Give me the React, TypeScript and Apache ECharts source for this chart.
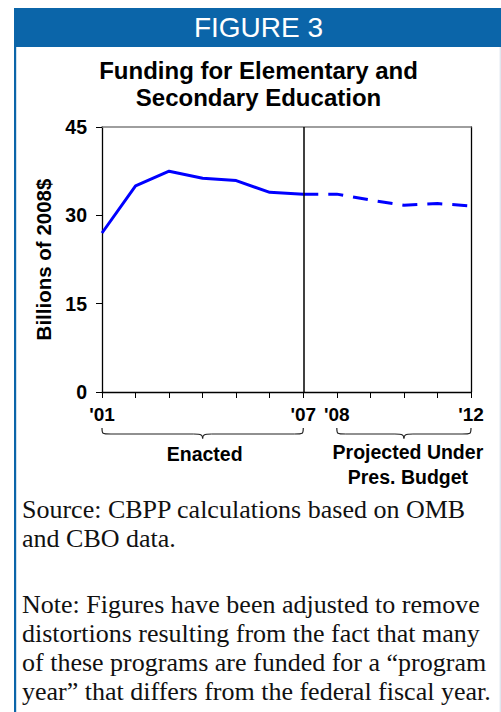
import React, { useEffect, useRef } from "react";
import * as echarts from "echarts";

// ---- data ----
const enactedYears = [2001, 2002, 2003, 2004, 2005, 2006, 2007];
const enactedValues = [27.0, 35.0, 37.5, 36.3, 35.9, 33.9, 33.6];
const projectedYears = [2007, 2008, 2009, 2010, 2011, 2012];
const projectedValues = [33.6, 33.6, 32.6, 31.7, 32.0, 31.6];
const yTickValues = [0, 15, 30, 45];
const xLabelYears = [2001, 2007, 2008, 2012];
const xLabelTexts = ["'01", "'07", "'08", "'12"];
const dividerYear = 2007;
const braceStarts = [2001, 2008];
const braceEnds = [2007, 2012];
const braceLabels = [["Enacted"], ["Projected Under", "Pres. Budget"]];
const headerText = "FIGURE 3";
const titleLines = ["Funding for Elementary and", "Secondary Education"];
const yAxisTitle = "Billions of 2008$";
const sourceLines = ["Source: CBPP calculations based on OMB", "and CBO data."];
const noteLines = [
  "Note: Figures have been adjusted to remove",
  "distortions resulting from the fact that many",
  "of these programs are funded for a \u201cprogram",
  "year\u201d that differs from the federal fiscal year.",
];

const BLUE = "#0b65a9";
const SANS = "'Liberation Sans', Arial, Helvetica, sans-serif";
const SERIF = "'Liberation Serif', 'Times New Roman', serif";

export default function App() {
  const ref = useRef<HTMLDivElement>(null);

  useEffect(() => {
    if (!ref.current) return;
    const chart = echarts.init(ref.current, null, { renderer: "svg" });

    const option: any = {
      animation: false,
      backgroundColor: "#ffffff",
      grid: { left: 102, top: 127, width: 369, height: 265, containLabel: false },
      xAxis: [
        {
          type: "value",
          min: 2001,
          max: 2012,
          interval: 1,
          axisLine: { show: true, lineStyle: { color: "#000", width: 1.3 } },
          axisTick: { show: true, length: 6, lineStyle: { color: "#000", width: 1 } },
          axisLabel: {
            margin: 13,
            color: "#000",
            fontFamily: SANS,
            fontWeight: "bold",
            fontSize: 19,
            formatter: (v: number) => {
              const i = xLabelYears.indexOf(Math.round(v));
              return i >= 0 ? xLabelTexts[i] : "";
            },
          },
          splitLine: { show: false },
        },
        {
          type: "value",
          position: "top",
          min: 2001,
          max: 2012,
          axisLine: { show: true, onZero: false, lineStyle: { color: "#7f7f7f", width: 1.5 } },
          axisTick: { show: false },
          axisLabel: { show: false },
          splitLine: { show: false },
        },
      ],
      yAxis: [
        {
          type: "value",
          min: 0,
          max: 45,
          interval: 15,
          name: yAxisTitle,
          nameLocation: "middle",
          nameGap: 46,
          nameRotate: 90,
          nameTextStyle: { color: "#000", fontFamily: SANS, fontWeight: "bold", fontSize: 20.5 },
          axisLine: { show: true, lineStyle: { color: "#000", width: 1.3 } },
          axisTick: { show: true, length: 6, lineStyle: { color: "#000", width: 1 } },
          axisLabel: {
            margin: 15,
            color: "#000",
            fontFamily: SANS,
            fontWeight: "bold",
            fontSize: 19.5,
            formatter: (v: number) => (yTickValues.includes(v) ? String(v) : ""),
          },
          splitLine: { show: false },
        },
        {
          type: "value",
          position: "right",
          min: 0,
          max: 45,
          axisLine: { show: true, onZero: false, lineStyle: { color: "#000", width: 1.3 } },
          axisTick: { show: false },
          axisLabel: { show: false },
          splitLine: { show: false },
        },
      ],
      series: [
        {
          type: "line",
          name: "Enacted",
          data: enactedYears.map((y, i) => [y, enactedValues[i]]),
          showSymbol: false,
          symbol: "none",
          lineStyle: { color: "#0000ff", width: 3, type: "solid" },
          z: 3,
          markLine: {
            silent: true,
            symbol: ["none", "none"],
            label: { show: false },
            lineStyle: { color: "#000", type: "solid", width: 1.5 },
            data: [{ xAxis: dividerYear }],
          },
        },
        {
          type: "line",
          name: "Projected",
          data: projectedYears.map((y, i) => [y, projectedValues[i]]),
          showSymbol: false,
          symbol: "none",
          lineStyle: { color: "#0000ff", width: 3, type: [15, 10] },
          z: 3,
        },
      ],
    };

    chart.setOption(option);

    const px = (year: number) => chart.convertToPixel({ xAxisIndex: 0 }, year) as number;

    const graphics: any[] = [
      { type: "rect", shape: { x: 14, y: 8, width: 487, height: 39 }, style: { fill: BLUE }, silent: true },
      { type: "rect", shape: { x: 14, y: 8, width: 2.2, height: 704 }, style: { fill: BLUE }, silent: true },
      { type: "rect", shape: { x: 499.6, y: 47, width: 1.4, height: 665 }, style: { fill: "#dfe7ef" }, silent: true },
      {
        type: "text",
        x: 258.5,
        y: 27.5,
        style: { text: headerText, fill: "#fff", fontFamily: SANS, fontSize: 28, align: "center", verticalAlign: "middle" },
      },
    ];
    const titleYs = [70, 97.5];
    titleLines.forEach((t, i) => {
      graphics.push({
        type: "text",
        x: 258.5,
        y: titleYs[i],
        style: { text: t, fill: "#000", fontFamily: SANS, fontWeight: "bold", fontSize: 24, align: "center", verticalAlign: "middle" },
      });
    });

    // braces
    const yTop = 428, yMid = 434, yBot = 438.5, r = 9;
    const bs = { stroke: "#222", lineWidth: 1.2, fill: null };
    const labelDx = [2, 4];
    const labelYs = [[454], [451.5, 477]];
    braceStarts.forEach((s, i) => {
      const x1 = px(s);
      const x2 = px(braceEnds[i]);
      const cx = (x1 + x2) / 2;
      graphics.push(
        { type: "bezierCurve", shape: { x1, y1: yTop, cpx1: x1, cpy1: yMid, cpx2: x1, cpy2: yMid, x2: x1 + r, y2: yMid }, style: bs },
        { type: "line", shape: { x1: x1 + r, y1: yMid, x2: cx - r, y2: yMid }, style: bs },
        { type: "bezierCurve", shape: { x1: cx - r, y1: yMid, cpx1: cx - 1, cpy1: yMid, cpx2: cx, cpy2: yMid + 1, x2: cx, y2: yBot }, style: bs },
        { type: "bezierCurve", shape: { x1: cx, y1: yBot, cpx1: cx, cpy1: yMid + 1, cpx2: cx + 1, cpy2: yMid, x2: cx + r, y2: yMid }, style: bs },
        { type: "line", shape: { x1: cx + r, y1: yMid, x2: x2 - r, y2: yMid }, style: bs },
        { type: "bezierCurve", shape: { x1: x2 - r, y1: yMid, cpx1: x2, cpy1: yMid, cpx2: x2, cpy2: yMid, x2: x2, y2: yTop }, style: bs }
      );
      braceLabels[i].forEach((t, j) => {
        graphics.push({
          type: "text",
          x: cx + labelDx[i],
          y: labelYs[i][j],
          style: { text: t, fill: "#000", fontFamily: SANS, fontWeight: "bold", fontSize: 19.5, align: "center", verticalAlign: "middle" },
        });
      });
    });

    const srcYs = [509, 538.5];
    sourceLines.forEach((t, i) => {
      graphics.push({
        type: "text",
        x: 22,
        y: srcYs[i],
        style: { text: t, fill: "#111", fontFamily: SERIF, fontSize: 26, align: "left", verticalAlign: "middle" },
      });
    });
    const noteYs = [604, 633, 662, 691];
    noteLines.forEach((t, i) => {
      graphics.push({
        type: "text",
        x: 22,
        y: noteYs[i],
        style: { text: t, fill: "#111", fontFamily: SERIF, fontSize: 26, align: "left", verticalAlign: "middle" },
      });
    });

    chart.setOption({ graphic: graphics });

    return () => chart.dispose();
  }, []);

  return (
    <div
      ref={ref}
      style={{ position: "absolute", left: 0, top: 0, width: 501, height: 712, background: "#fff" }}
    />
  );
}
